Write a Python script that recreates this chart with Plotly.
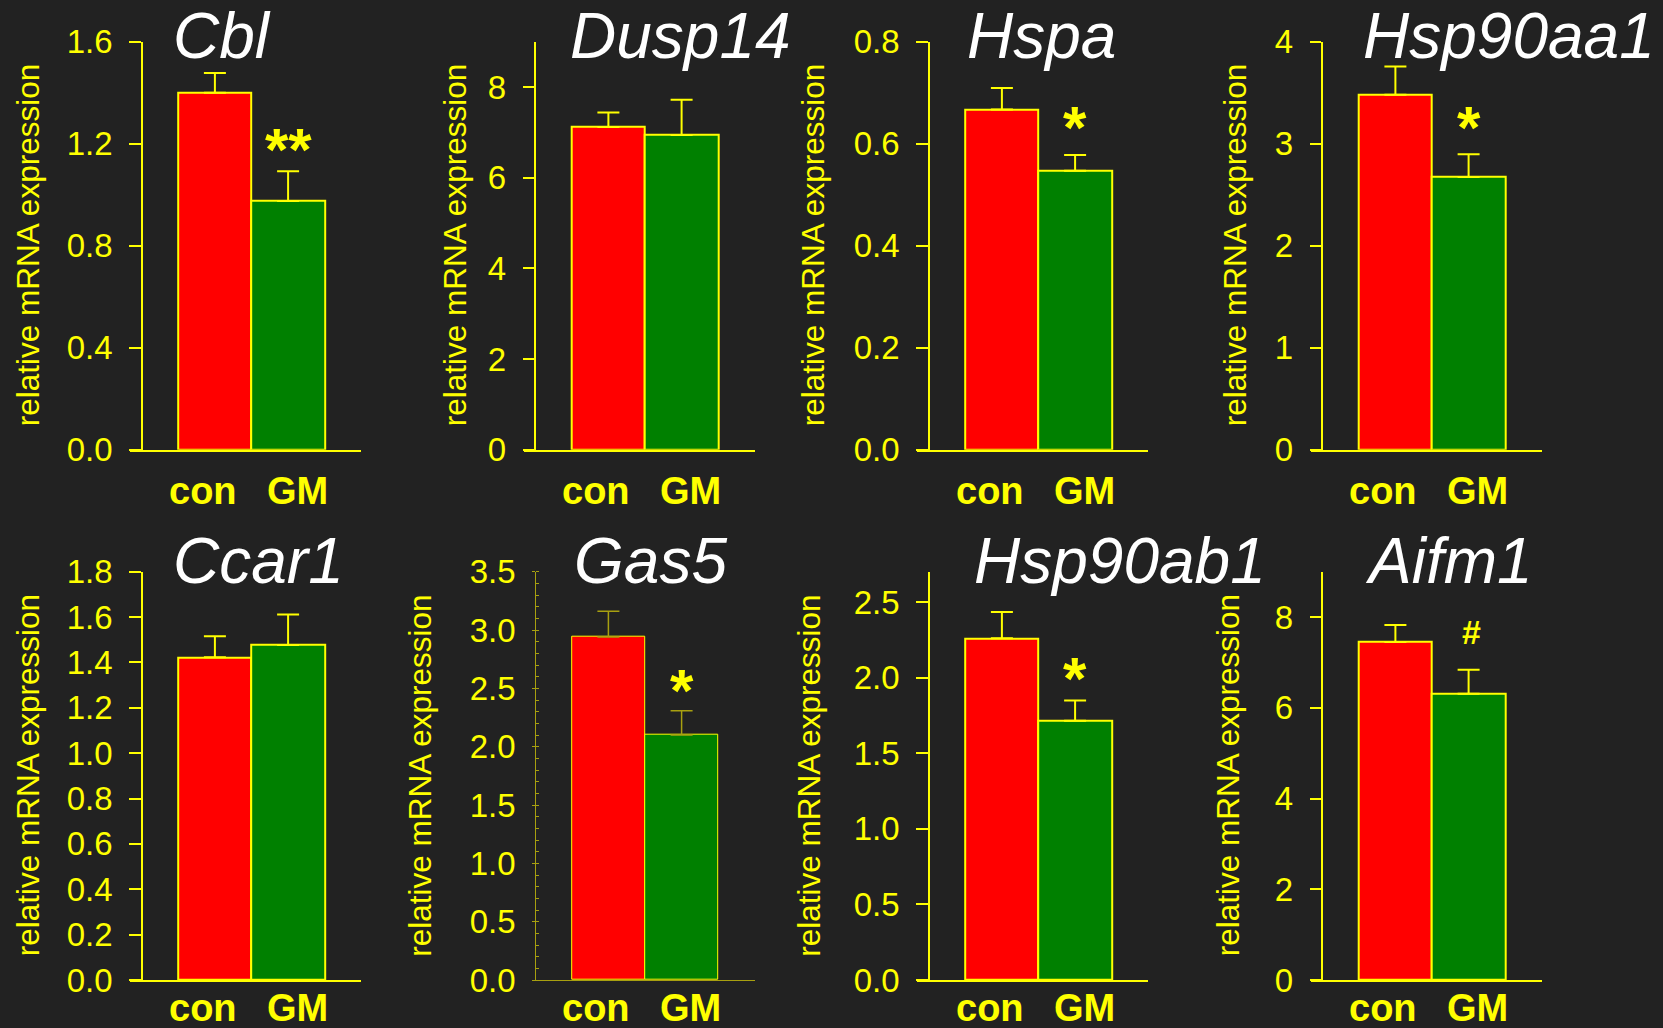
import plotly.graph_objects as go

# ---------------- data ----------------
genes = ["Cbl", "Dusp14", "Hspa", "Hsp90aa1", "Ccar1", "Gas5", "Hsp90ab1", "Aifm1"]
groups = ["con", "GM"]
con_mean = [1.40, 7.12, 0.667, 3.48, 1.423, 2.94, 2.26, 7.45]
con_sem = [0.077, 0.32, 0.042, 0.278, 0.092, 0.22, 0.174, 0.375]
gm_mean = [0.975, 6.94, 0.547, 2.674, 1.477, 2.10, 1.715, 6.31]
gm_sem = [0.117, 0.78, 0.031, 0.222, 0.134, 0.208, 0.133, 0.53]
significance = ["**", "", "*", "*", "", "*", "*", "#"]
y_max = [1.6, 9, 0.8, 4, 1.8, 3.5, 2.7, 9]
y_dtick = [0.4, 2, 0.2, 1, 0.2, 0.5, 0.5, 2]
y_format = [".1f", "d", ".1f", "d", ".1f", ".1f", ".1f", "d"]
y_title = "relative mRNA expression"

# ---------------- layout constants (pixels) ----------------
W, H = 1663, 1028
BG = "#222222"
YEL = "#ffff00"
OLIVE = "#a8a010"
FONT = "Liberation Sans, Arial, sans-serif"
bar_colors = ["#ff0000", "#008000"]

col_axis_px = [141.7, 535.2, 928.7, 1322.2]
row_zero_px = [449.7, 980.0]
row_top_px = [41.7, 571.7]
unit_px = 73.2
title_baseline_px = [58.3, 583.3]
title_shift_px = [-7.5, -4, 0, 2, -7.5, 0, 6.5, 4.5]
label_center_px = [491.0, 1008.0]
ytitle_center_px = [27.5, 454.5, 812.5, 1234.5, 27.5, 420.0, 809.0, 1227.5]
label_shift = [-12, 9]
sig_shift_px = [22, 0, 27, 27, 0, 20, 22, 38]

fig = go.Figure()
annotations = []
layout_axes = {}

for i, gene in enumerate(genes):
    r, c = divmod(i, 4)
    n = i + 1
    xref = "x" if n == 1 else f"x{n}"
    yref = "y" if n == 1 else f"y{n}"
    faint = gene == "Gas5"
    lcol = OLIVE if faint else YEL
    lw = 1 if faint else 2
    tl = 3 if faint else 11.5
    ax_px = col_axis_px[c]

    xs = list(range(len(groups)))
    fig.add_trace(go.Bar(
        x=xs, y=[con_mean[i], gm_mean[i]], width=1,
        marker=dict(color=bar_colors, line=dict(color=YEL, width=1 if faint else 2)),
        error_y=dict(type="data", symmetric=False,
                     array=[con_sem[i], gm_sem[i]], arrayminus=[0, 0],
                     color=lcol, thickness=lw + (0.5 if faint else 0), width=11),
        xaxis=xref, yaxis=yref, hoverinfo="skip", showlegend=False,
    ))

    xdom = [(ax_px - tl) / W, (ax_px + 3 * unit_px) / W]
    ydom = [1 - row_zero_px[r] / H, 1 - row_top_px[r] / H]
    xkey = "xaxis" if n == 1 else f"xaxis{n}"
    ykey = "yaxis" if n == 1 else f"yaxis{n}"
    layout_axes[xkey] = dict(
        domain=xdom, range=[-1 - tl / unit_px, 2.0], anchor=yref,
        showline=True, linecolor=lcol, linewidth=lw, ticks="",
        showticklabels=False, showgrid=False, zeroline=False, fixedrange=True,
        automargin=False,
    )
    yax = dict(
        domain=ydom, range=[0, y_max[i]], anchor="free", position=ax_px / W,
        showline=True, linecolor=lcol, linewidth=lw,
        ticks="outside", ticklen=tl, tickwidth=lw, tickcolor=lcol,
        tick0=0, dtick=y_dtick[i], tickformat=y_format[i],
        tickfont=dict(family=FONT, size=33, color=YEL),
        ticklabelstandoff=10,
        showgrid=False, zeroline=False, fixedrange=True, automargin=False,
    )
    if faint:
        yax["minor"] = dict(dtick=0.1, ticks="inside", ticklen=3,
                            tickcolor=OLIVE, tickwidth=1, showgrid=False)
    layout_axes[ykey] = yax

    # gene title
    annotations.append(dict(
        text=f"<i>{gene}</i>", xref=xref, x=-0.5, xanchor="left",
        xshift=title_shift_px[i],
        yref="paper", y=1 - (title_baseline_px[r] - 0.35 * 64) / H, yanchor="middle",
        showarrow=False, font=dict(family=FONT, size=64, color="#ffffff"),
    ))
    # group labels
    for j, g in enumerate(groups):
        annotations.append(dict(
            text=f"<b>{g}</b>", xref=xref, x=xs[j], xshift=label_shift[j],
            xanchor="center", yref="paper", y=1 - label_center_px[r] / H,
            yanchor="middle", showarrow=False,
            font=dict(family=FONT, size=38, color=YEL),
        ))
    # y axis title
    annotations.append(dict(
        text=y_title, textangle=-90, xref="paper", x=ytitle_center_px[i] / W,
        xanchor="center", yref="paper", y=(ydom[0] + ydom[1]) / 2, yanchor="middle",
        showarrow=False, font=dict(family=FONT, size=31.5, color=YEL),
    ))
    # significance marks
    s = significance[i]
    if s:
        is_hash = s == "#"
        annotations.append(dict(
            text=f"<b>{s}</b>", xref=xref, x=xs[1], xshift=3 if is_hash else 0,
            yref=yref, y=gm_mean[i] + gm_sem[i], yanchor="middle",
            yshift=sig_shift_px[i], showarrow=False,
            font=dict(family=FONT, size=34 if is_hash else 60, color=YEL),
        ))

fig.update_layout(
    template="none",
    width=W, height=H, margin=dict(l=0, r=0, t=0, b=0, pad=0, autoexpand=False),
    paper_bgcolor=BG, plot_bgcolor=BG, showlegend=False,
    bargap=0, annotations=annotations, **layout_axes,
)

fig.write_html(
    "out.html",
    config={"displayModeBar": False},
    post_script="document.body.style.margin='0';document.body.style.padding='0';"
                "document.body.style.background='#222222';document.body.style.overflow='hidden';",
)
